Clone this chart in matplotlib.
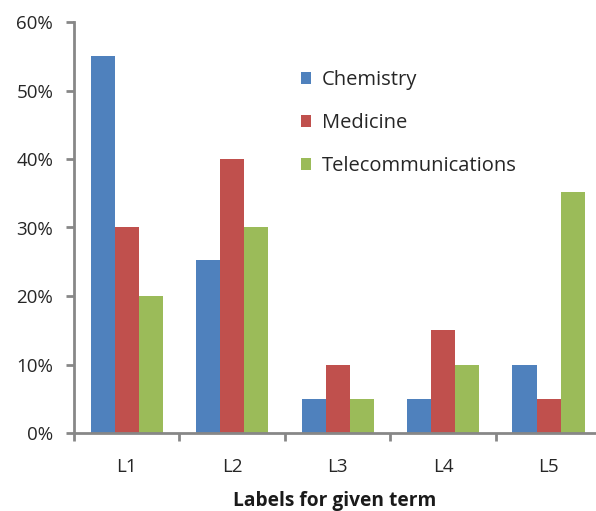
import numpy as np
import matplotlib
matplotlib.use('Agg')
import matplotlib.pyplot as plt
from matplotlib.patches import Patch
from matplotlib.ticker import FuncFormatter, FixedLocator

plt.rcParams['font.family'] = ['Open Sans', 'DejaVu Sans']

categories = ['L1', 'L2', 'L3', 'L4', 'L5']
series_names = ['Chemistry', 'Medicine', 'Telecommunications']
chemistry = [55, 25.3, 5, 5, 10]
medicine = [30, 40, 10, 15, 5]
telecom = [20, 30, 5, 10, 35.2]
colors = ['#4F81BD', '#C0504D', '#9BBB59']

W, H = 596, 511
fig = plt.figure(figsize=(W / 100, H / 100), dpi=100)
ax = fig.add_axes([74 / W, (H - 433) / H, (W - 74) / W, (433 - 22) / H])

x = np.arange(len(categories))
bw = 0.228
for i, (vals, c) in enumerate(zip([chemistry, medicine, telecom], colors)):
    ax.bar(x + (i - 1) * bw, vals, width=bw, color=c, edgecolor='none', zorder=2)

ax.set_xlim(-0.5, 4.45)
ax.set_ylim(0, 60)
ax.set_yticks(np.arange(0, 61, 10))
ax.yaxis.set_major_formatter(FuncFormatter(lambda v, p: f'{int(v)}%'))
ax.set_xticks(x)
ax.set_xticklabels(categories)
ax.xaxis.set_minor_locator(FixedLocator(np.arange(-0.5, 4.5, 1)))

axis_col = '#878787'
for s in ['top', 'right']:
    ax.spines[s].set_visible(False)
for s in ['left', 'bottom']:
    ax.spines[s].set_color(axis_col)
    ax.spines[s].set_linewidth(2)

ax.tick_params(axis='y', length=6, width=2, color=axis_col, labelsize=13.5,
               labelcolor='#262626', pad=9)
ax.tick_params(axis='x', which='major', length=0, labelsize=13.5,
               labelcolor='#262626', pad=18)
ax.tick_params(axis='x', which='minor', length=6, width=2, color=axis_col)

ax.set_xlabel('Labels for given term', fontsize=13.8, fontweight='bold',
              color='#1a1a1a', labelpad=11)

handles = [Patch(facecolor=c, edgecolor='none') for c in colors]
ax.legend(handles, series_names, loc='upper left',
          bbox_to_anchor=(301 / W, 1 - 70 / H), bbox_transform=fig.transFigure,
          frameon=False, fontsize=14.5, handlelength=0.5, handleheight=0.5,
          handletextpad=0.55, labelspacing=1.15, borderpad=0, borderaxespad=0,
          labelcolor='#262626')

fig.savefig('out.png', dpi=100)
